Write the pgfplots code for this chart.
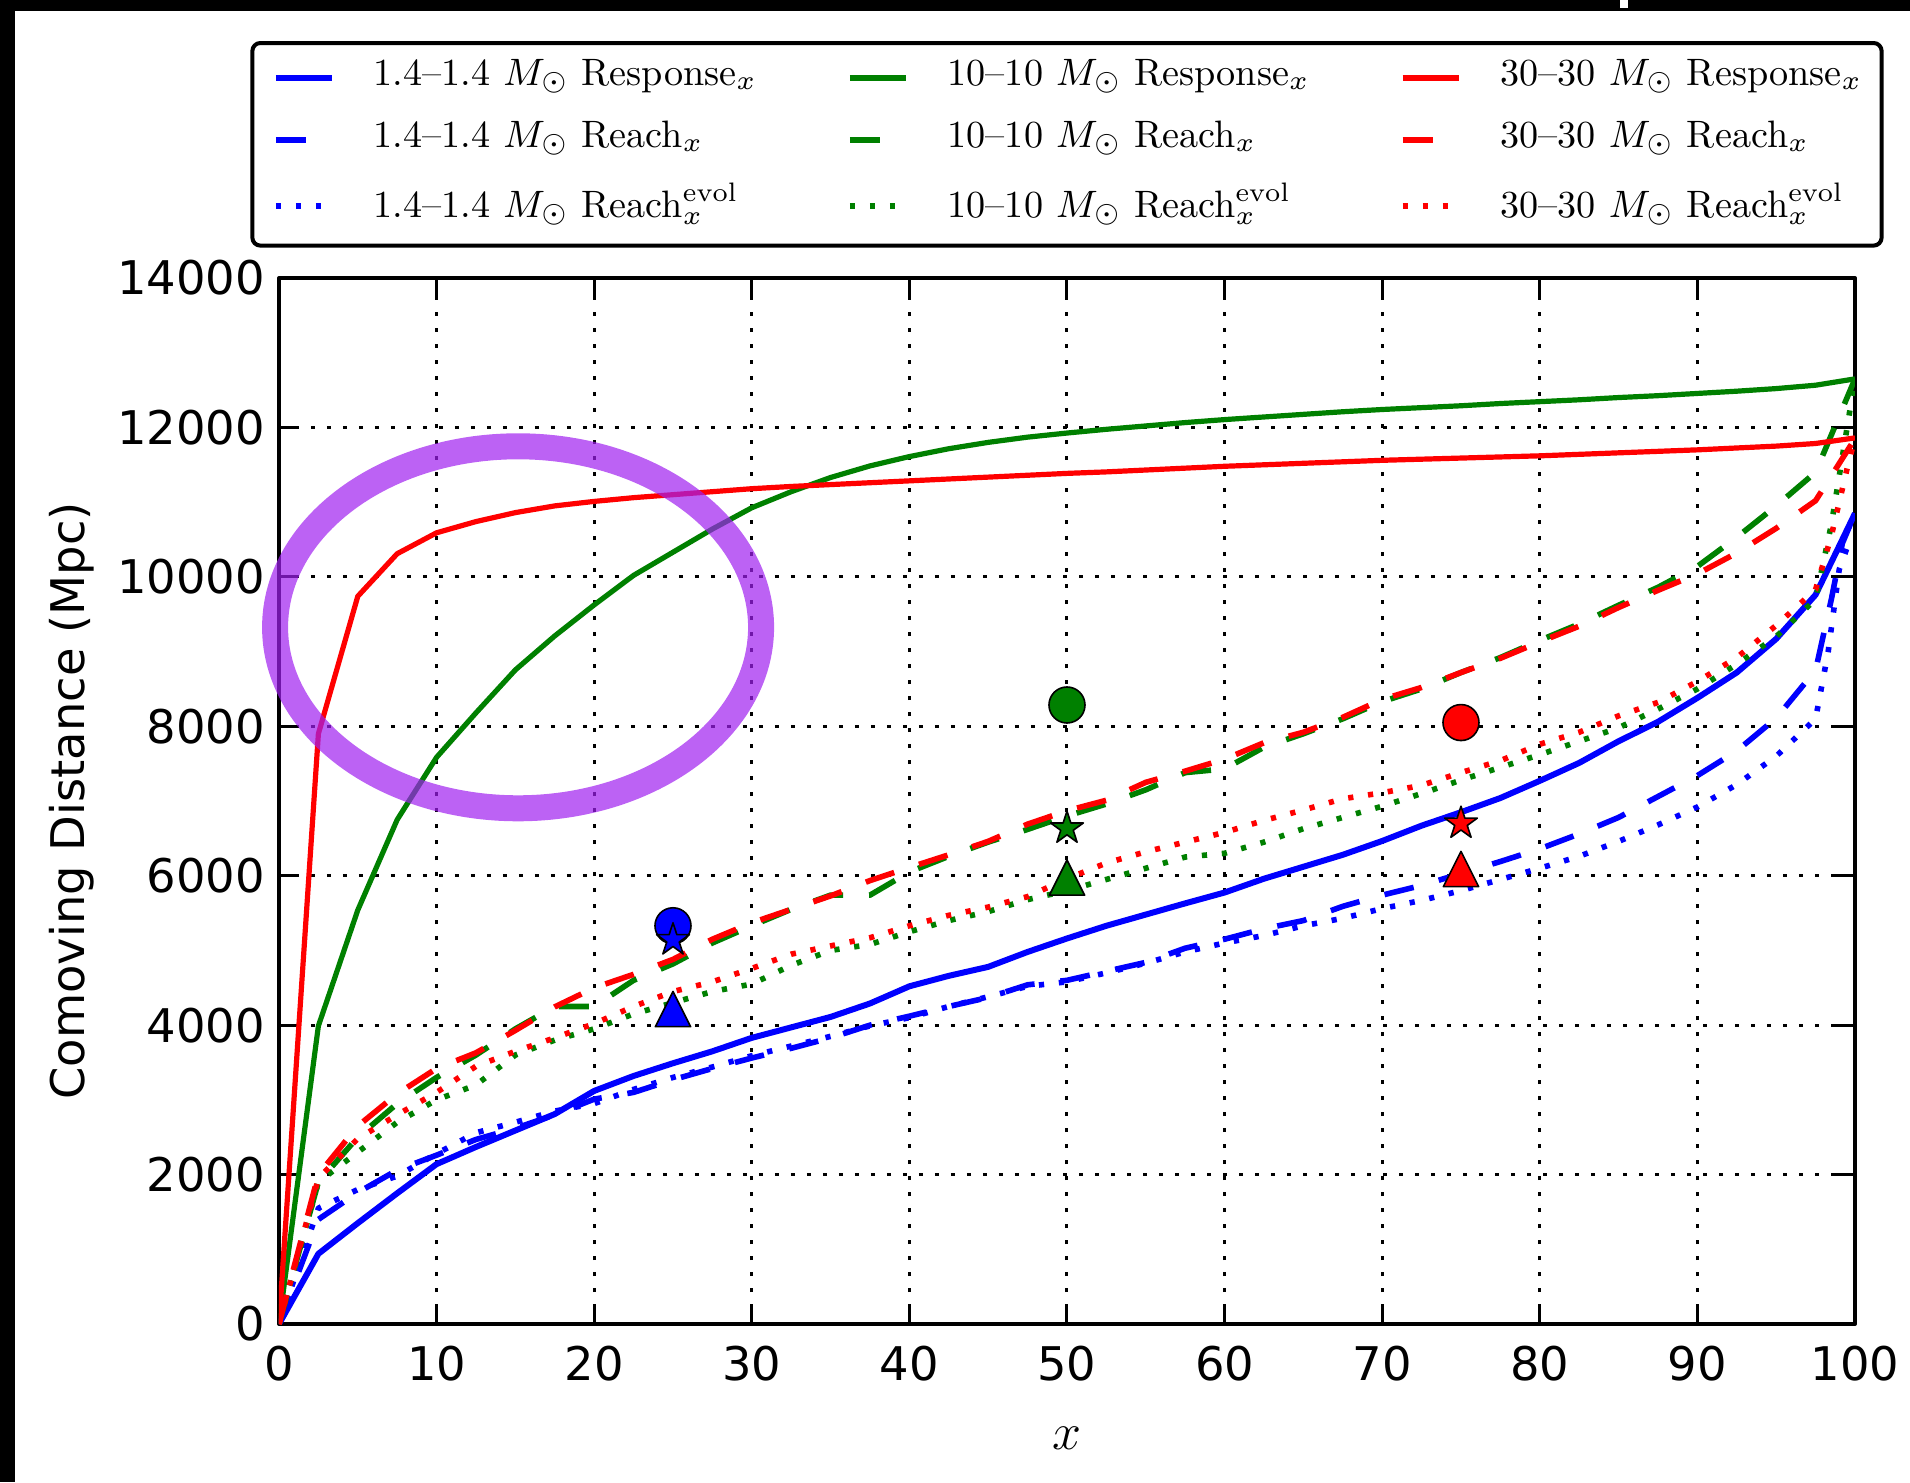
\documentclass[border=0pt]{standalone}
\usepackage{fix-cm}
\usepackage{fontspec}
\usepackage{pgfplots}
\pgfplotsset{compat=1.18}
\newfontfamily\dejavu{DejaVu Sans}

% filled five-pointed star
\pgfdeclareplotmark{mstar}{%
  \pgfpathmoveto{\pgfqpointpolar{90}{\pgfplotmarksize}}%
  \pgfpathlineto{\pgfqpointpolar{126}{0.382\pgfplotmarksize}}%
  \pgfpathlineto{\pgfqpointpolar{162}{\pgfplotmarksize}}%
  \pgfpathlineto{\pgfqpointpolar{198}{0.382\pgfplotmarksize}}%
  \pgfpathlineto{\pgfqpointpolar{234}{\pgfplotmarksize}}%
  \pgfpathlineto{\pgfqpointpolar{270}{0.382\pgfplotmarksize}}%
  \pgfpathlineto{\pgfqpointpolar{306}{\pgfplotmarksize}}%
  \pgfpathlineto{\pgfqpointpolar{342}{0.382\pgfplotmarksize}}%
  \pgfpathlineto{\pgfqpointpolar{18}{\pgfplotmarksize}}%
  \pgfpathlineto{\pgfqpointpolar{54}{0.382\pgfplotmarksize}}%
  \pgfpathclose
  \pgfusepathqfillstroke
}
% upward triangle centred on its bounding box
\pgfdeclareplotmark{mtri}{%
  \pgfpathmoveto{\pgfqpoint{0pt}{\pgfplotmarksize}}%
  \pgfpathlineto{\pgfqpoint{-\pgfplotmarksize}{-\pgfplotmarksize}}%
  \pgfpathlineto{\pgfqpoint{\pgfplotmarksize}{-\pgfplotmarksize}}%
  \pgfpathclose
  \pgfusepathqfillstroke
}

\definecolor{mplgreen}{rgb}{0,0.5,0}
\definecolor{ringpurple}{RGB}{160,32,240}

\pgfplotsset{
  dot marker/.style={only marks, mark=*, mark size=4.5pt,
    mark options={fill=#1, draw=black, line width=0.4pt}, forget plot},
  star marker/.style={only marks, mark=mstar, mark size=4.3pt,
    mark options={fill=#1, draw=black, line width=0.4pt}, forget plot},
  tri marker/.style={only marks, mark=mtri, mark size=4.4pt,
    mark options={fill=#1, draw=black, line width=0.4pt}, forget plot},
  response/.style={#1, line width=1.3pt, mark=none},
  reach/.style={#1, line width=1.4pt, mark=none, dash pattern=on 7.5pt off 6.5pt},
  reachevol/.style={#1, line width=1.4pt, mark=none, dash pattern=on 1.3pt off 3.7pt},
}

\begin{document}
\begin{tikzpicture}
\useasboundingbox (0,0) rectangle (477.5pt,370.5pt);
\begin{axis}[
  at={(69.75pt,39.5pt)}, anchor=south west,
  scale only axis, width=394pt, height=261.5pt,
  xmin=0, xmax=100, ymin=0, ymax=14000,
  xtick={0,10,...,100},
  xticklabels={0,10,20,30,40,50,60,70,80,90,100},
  ytick={0,2000,...,14000},
  yticklabels={0,2000,4000,6000,8000,10000,12000,14000},
  tick label style={font=\dejavu\fontsize{11.6}{13}\selectfont},
  xticklabel style={yshift=-2pt},
  tick align=inside, major tick length=5pt,
  tick style={black, line width=0.75pt},
  axis line style={line width=1pt},
  grid=major,
  major grid style={black, line width=0.75pt, dash pattern=on 1pt off 3pt},
  ylabel={Comoving Distance (Mpc)},
  ylabel style={font=\dejavu\fontsize{11.6}{13}\selectfont,
    at={(axis description cs:-0.1313,0.5)}, anchor=center},
  xlabel={$x$},
  xlabel style={font=\fontsize{13}{15}\selectfont,
    at={(axis description cs:0.5,-0.109)}, anchor=center},
  legend columns=3, transpose legend,
  legend cell align=left,
  legend image code/.code={\path (0pt,0pt); \draw[#1] (2.3pt,0pt) -- (16.3pt,0pt);},
  legend style={
    at={(0.5,1)}, anchor=south, yshift=7.6pt,
    draw=black, line width=1pt, rounded corners=2pt,
    font=\fontsize{9.55}{11}\selectfont,
    inner xsep=2.8pt, inner ysep=2pt,
    nodes={inner sep=2pt, text depth=0.3em},
    row sep=1.9pt,
    /tikz/every odd column/.append style={column sep=7.75pt},
    /tikz/every even column/.append style={column sep=18.2pt},
  },
  line join=round,
]

% single-configuration estimates
\addplot[dot marker=blue]      coordinates {(25,5330)};
\addplot[star marker=blue]     coordinates {(25,5140)};
\addplot[tri marker=blue]      coordinates {(25,4215)};
\addplot[dot marker=mplgreen]  coordinates {(50,8285)};
\addplot[star marker=mplgreen] coordinates {(50,6635)};
\addplot[tri marker=mplgreen]  coordinates {(50,5975)};
\addplot[dot marker=red]       coordinates {(75,8050)};
\addplot[star marker=red]      coordinates {(75,6700)};
\addplot[tri marker=red]       coordinates {(75,6090)};

% 1.4-1.4 Msun
\addplot[response=blue, line width=1.5pt] table {
0 0
2.5 940
5 1350
7.5 1750
10 2140
12.5 2370
15 2590
17.5 2810
20 3120
22.5 3320
25 3490
27.5 3650
30 3830
32.5 3970
35 4110
37.5 4290
40 4520
42.5 4660
45 4780
47.5 4980
50 5160
52.5 5330
55 5480
57.5 5630
60 5775
62.5 5960
65 6120
67.5 6280
70 6465
72.5 6670
75 6850
77.5 7040
80 7270
82.5 7510
85 7800
87.5 8060
90 8380
92.5 8720
95 9170
97.5 9760
100 10850
};
\addlegendentry{1.4--1.4 $M_\odot$ Response$_x$}
\addplot[reach=blue] table {
0 0
2.5 1400
5 1760
7.5 2060
10 2260
12.5 2470
15 2620
17.5 2800
20 3010
22.5 3100
25 3270
27.5 3420
30 3560
32.5 3690
35 3830
37.5 4000
40 4120
42.5 4250
45 4370
47.5 4540
50 4600
52.5 4720
55 4840
57.5 5030
60 5150
62.5 5290
65 5400
67.5 5590
70 5740
72.5 5870
75 6030
77.5 6190
80 6360
82.5 6560
85 6780
87.5 7060
90 7340
92.5 7670
95 8110
97.5 8750
98.5 9700
99.2 10450
100 10850
};
\addlegendentry{1.4--1.4 $M_\odot$ Reach$_x$}
\addplot[reachevol=blue] table {
0 0
2.5 1550
5 1800
7.5 1980
10 2280
12.5 2560
15 2700
17.5 2850
20 2950
22.5 3140
25 3300
27.5 3440
30 3590
32.5 3720
35 3850
37.5 3990
40 4100
42.5 4250
45 4380
47.5 4520
50 4580
52.5 4700
55 4830
57.5 4980
60 5100
62.5 5200
65 5330
67.5 5430
70 5560
72.5 5670
75 5800
77.5 5950
80 6100
82.5 6260
85 6460
87.5 6680
90 6920
92.5 7220
95 7600
97.5 8100
98.3 9000
99 10100
99.6 10450
100 10500
};
\addlegendentry{1.4--1.4 $M_\odot$ Reach$_x^{\mathrm{evol}}$}

% 10-10 Msun
\addplot[response=mplgreen] table {
0 0
2.5 3990
5 5540
7.5 6750
10 7585
12.5 8180
15 8755
17.5 9210
20 9625
22.5 10020
25 10330
27.5 10640
30 10925
32.5 11140
35 11330
37.5 11485
40 11610
42.5 11715
45 11800
47.5 11870
50 11925
52.5 11975
55 12020
57.5 12065
60 12105
62.5 12140
65 12175
67.5 12210
70 12240
72.5 12265
75 12290
77.5 12320
80 12345
82.5 12370
85 12400
87.5 12425
90 12455
92.5 12485
95 12520
97.5 12565
100 12650
};
\addlegendentry{10--10 $M_\odot$ Response$_x$}
\addplot[reach=mplgreen] table {
0 0
2.5 1900
5 2500
7.5 2950
10 3300
12.5 3600
15 3950
17.5 4250
20 4250
22.5 4600
25 4820
27.5 5100
30 5330
32.5 5550
35 5740
37.5 5740
40 6050
42.5 6260
45 6450
47.5 6620
50 6800
52.5 6960
55 7150
57.5 7380
60 7430
62.5 7720
65 7900
67.5 8100
70 8330
72.5 8500
75 8720
77.5 8920
80 9150
82.5 9370
85 9620
87.5 9860
90 10140
92.5 10530
95 10950
97.5 11400
100 12650
};
\addlegendentry{10--10 $M_\odot$ Reach$_x$}
\addplot[reachevol=mplgreen] table {
0 0
2.5 1900
5 2300
7.5 2700
10 3000
12.5 3200
15 3600
17.5 3800
20 3950
22.5 4150
25 4300
27.5 4450
30 4550
32.5 4800
35 5000
37.5 5080
40 5250
42.5 5400
45 5520
47.5 5680
50 5800
52.5 5950
55 6100
57.5 6250
60 6300
62.5 6450
65 6630
67.5 6780
70 6930
72.5 7100
75 7280
77.5 7450
80 7620
82.5 7800
85 7980
87.5 8230
90 8500
92.5 8830
95 9200
97.5 9700
98.5 10700
99.5 12000
100 12650
};
\addlegendentry{10--10 $M_\odot$ Reach$_x^{\mathrm{evol}}$}

% 30-30 Msun
\addplot[response=red] table {
0 0
2.5 7900
5 9740
7.5 10310
10 10590
12.5 10740
15 10860
17.5 10950
20 11010
22.5 11060
25 11100
27.5 11140
30 11180
32.5 11210
35 11235
37.5 11260
40 11285
42.5 11310
45 11335
47.5 11360
50 11385
52.5 11405
55 11430
57.5 11455
60 11480
62.5 11500
65 11520
67.5 11540
70 11560
72.5 11575
75 11590
77.5 11605
80 11620
82.5 11640
85 11660
87.5 11680
90 11700
92.5 11725
95 11750
97.5 11785
100 11860
};
\addlegendentry{30--30 $M_\odot$ Response$_x$}
\addplot[reach=red] table {
0 0
2.5 2000
5 2650
7.5 3080
10 3420
12.5 3630
15 3930
17.5 4245
20 4500
22.5 4680
25 4880
27.5 5150
30 5370
32.5 5550
35 5730
37.5 5935
40 6110
42.5 6280
45 6460
47.5 6690
50 6870
52.5 7010
55 7250
57.5 7400
60 7560
62.5 7780
65 7920
67.5 8120
70 8360
72.5 8520
75 8720
77.5 8910
80 9130
82.5 9340
85 9590
87.5 9820
90 10040
92.5 10320
95 10650
97.5 11020
100 11850
};
\addlegendentry{30--30 $M_\odot$ Reach$_x$}
\addplot[reachevol=red] table {
0 0
2.5 1950
5 2480
7.5 2800
10 3100
12.5 3450
15 3650
17.5 3830
20 4020
22.5 4250
25 4450
27.5 4580
30 4760
32.5 4950
35 5060
37.5 5170
40 5330
42.5 5470
45 5580
47.5 5720
50 5960
52.5 6170
55 6320
57.5 6450
60 6580
62.5 6740
65 6880
67.5 7030
70 7110
72.5 7210
75 7380
77.5 7540
80 7760
82.5 7920
85 8140
87.5 8320
90 8600
92.5 8920
95 9350
97.5 9830
98.5 10550
99.5 11450
100 11860
};
\addlegendentry{30--30 $M_\odot$ Reach$_x^{\mathrm{evol}}$}

\coordinate (ringc) at (axis cs:15.17,9325);
\end{axis}

% highlight ring around the low-x region
\draw[ringpurple, opacity=0.7, line width=6.5pt] (ringc) ellipse [x radius=60.75pt, y radius=45.25pt];

% dark frame strips along the top and left edges
\fill[black] (0pt,367.75pt) rectangle (477.5pt,370.5pt);
\fill[black] (0pt,0pt) rectangle (3.75pt,370.5pt);
\fill[white] (405pt,368.5pt) rectangle (407pt,370.5pt);
\end{tikzpicture}
\end{document}
